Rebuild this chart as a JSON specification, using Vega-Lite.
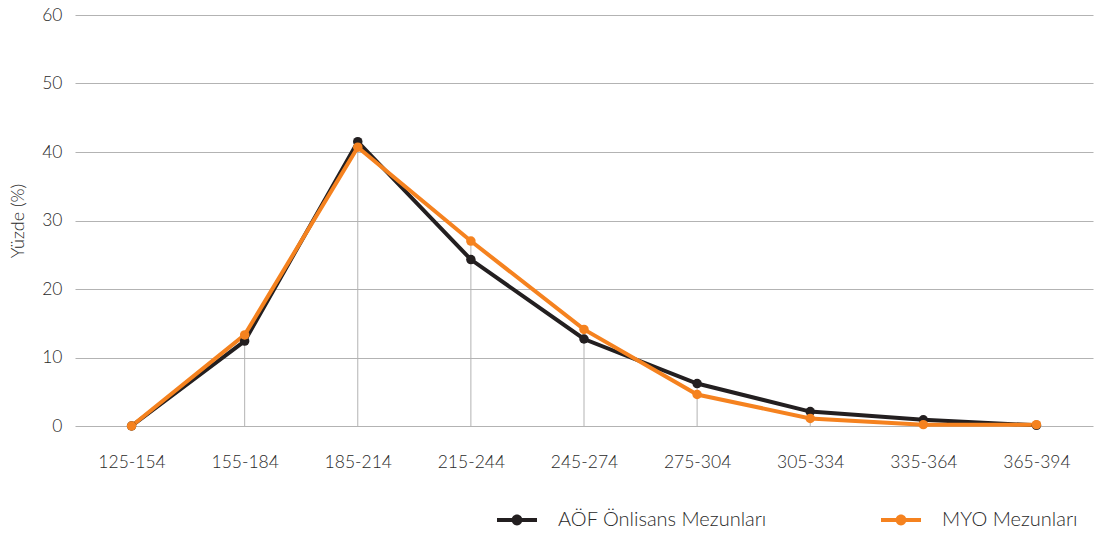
{
  "$schema": "https://vega.github.io/schema/vega-lite/v6.json",
  "autosize": "none",
  "width": 1018,
  "height": 411,
  "padding": {"left": 75, "top": 15, "right": 13, "bottom": 109},
  "background": "white",
  "config": {
    "font": "Lato",
    "view": {"stroke": null},
    "axis": {"labelFont": "Lato", "titleFont": "Lato", "labelColor": "#2a2a2a", "titleColor": "#2a2a2a", "labelFontSize": 17.5, "titleFontSize": 18, "titleFontWeight": 300, "labelFontWeight": 300},
    "legend": {"labelFont": "Lato", "labelFontSize": 20, "labelColor": "#2a2a2a", "labelFontWeight": 300, "labelLimit": 0}
  },
  "data": {
    "values": [
      {"aralik": "125-154", "seri": "AÖF Önlisans Mezunları", "deger": 0},
      {"aralik": "155-184", "seri": "AÖF Önlisans Mezunları", "deger": 12.4},
      {"aralik": "185-214", "seri": "AÖF Önlisans Mezunları", "deger": 41.5},
      {"aralik": "215-244", "seri": "AÖF Önlisans Mezunları", "deger": 24.3},
      {"aralik": "245-274", "seri": "AÖF Önlisans Mezunları", "deger": 12.7},
      {"aralik": "275-304", "seri": "AÖF Önlisans Mezunları", "deger": 6.2},
      {"aralik": "305-334", "seri": "AÖF Önlisans Mezunları", "deger": 2.1},
      {"aralik": "335-364", "seri": "AÖF Önlisans Mezunları", "deger": 0.9},
      {"aralik": "365-394", "seri": "AÖF Önlisans Mezunları", "deger": 0.1},
      {"aralik": "125-154", "seri": "MYO Mezunları", "deger": 0},
      {"aralik": "155-184", "seri": "MYO Mezunları", "deger": 13.3},
      {"aralik": "185-214", "seri": "MYO Mezunları", "deger": 40.7},
      {"aralik": "215-244", "seri": "MYO Mezunları", "deger": 27.0},
      {"aralik": "245-274", "seri": "MYO Mezunları", "deger": 14.1},
      {"aralik": "275-304", "seri": "MYO Mezunları", "deger": 4.6},
      {"aralik": "305-334", "seri": "MYO Mezunları", "deger": 1.1},
      {"aralik": "335-364", "seri": "MYO Mezunları", "deger": 0.2},
      {"aralik": "365-394", "seri": "MYO Mezunları", "deger": 0.2}
    ]
  },
  "encoding": {
    "x": {
      "field": "aralik", "type": "ordinal", "sort": null,
      "scale": {"type": "point", "padding": 0.5},
      "axis": {"title": null, "domain": false, "ticks": false, "grid": false, "labelAngle": 0, "labelPadding": 27}
    }
  },
  "layer": [
    {
      "mark": {"type": "rule", "color": "#b3b3b3", "strokeWidth": 1},
      "encoding": {
        "y": {"aggregate": "max", "field": "deger", "type": "quantitative"},
        "y2": {"datum": 0}
      }
    },
    {
      "mark": {"type": "line", "strokeWidth": 4},
      "encoding": {
        "y": {
          "field": "deger", "type": "quantitative",
          "scale": {"domain": [0, 60]},
          "axis": {"title": "Yüzde (%)", "titleFontSize": 18, "values": [0, 10, 20, 30, 40, 50, 60], "domain": false, "ticks": false, "gridColor": "#b3b3b3", "gridWidth": 1, "labelPadding": 13, "titlePadding": 14}
        },
        "color": {
          "field": "seri", "type": "nominal", "sort": ["AÖF Önlisans Mezunları", "MYO Mezunları"],
          "scale": {"domain": ["AÖF Önlisans Mezunları", "MYO Mezunları"], "range": ["#231f20", "#f5821f"]},
          "legend": {
            "title": null, "orient": "none", "direction": "horizontal",
            "legendX": 422, "legendY": 485,
            "symbolType": "M-1,-0.1H1V0.1H-1Z M0.27,0 A0.27,0.27 0 1,1 -0.27,0 A0.27,0.27 0 1,1 0.27,0Z",
            "symbolSize": 1600, "symbolStrokeWidth": 0, "symbolOpacity": 1,
            "labelOffset": 21, "columnPadding": 114
          }
        }
      }
    },
    {
      "mark": {"type": "point", "filled": true, "size": 90, "opacity": 1},
      "encoding": {
        "y": {"field": "deger", "type": "quantitative"},
        "color": {"field": "seri", "type": "nominal"}
      }
    }
  ]
}
